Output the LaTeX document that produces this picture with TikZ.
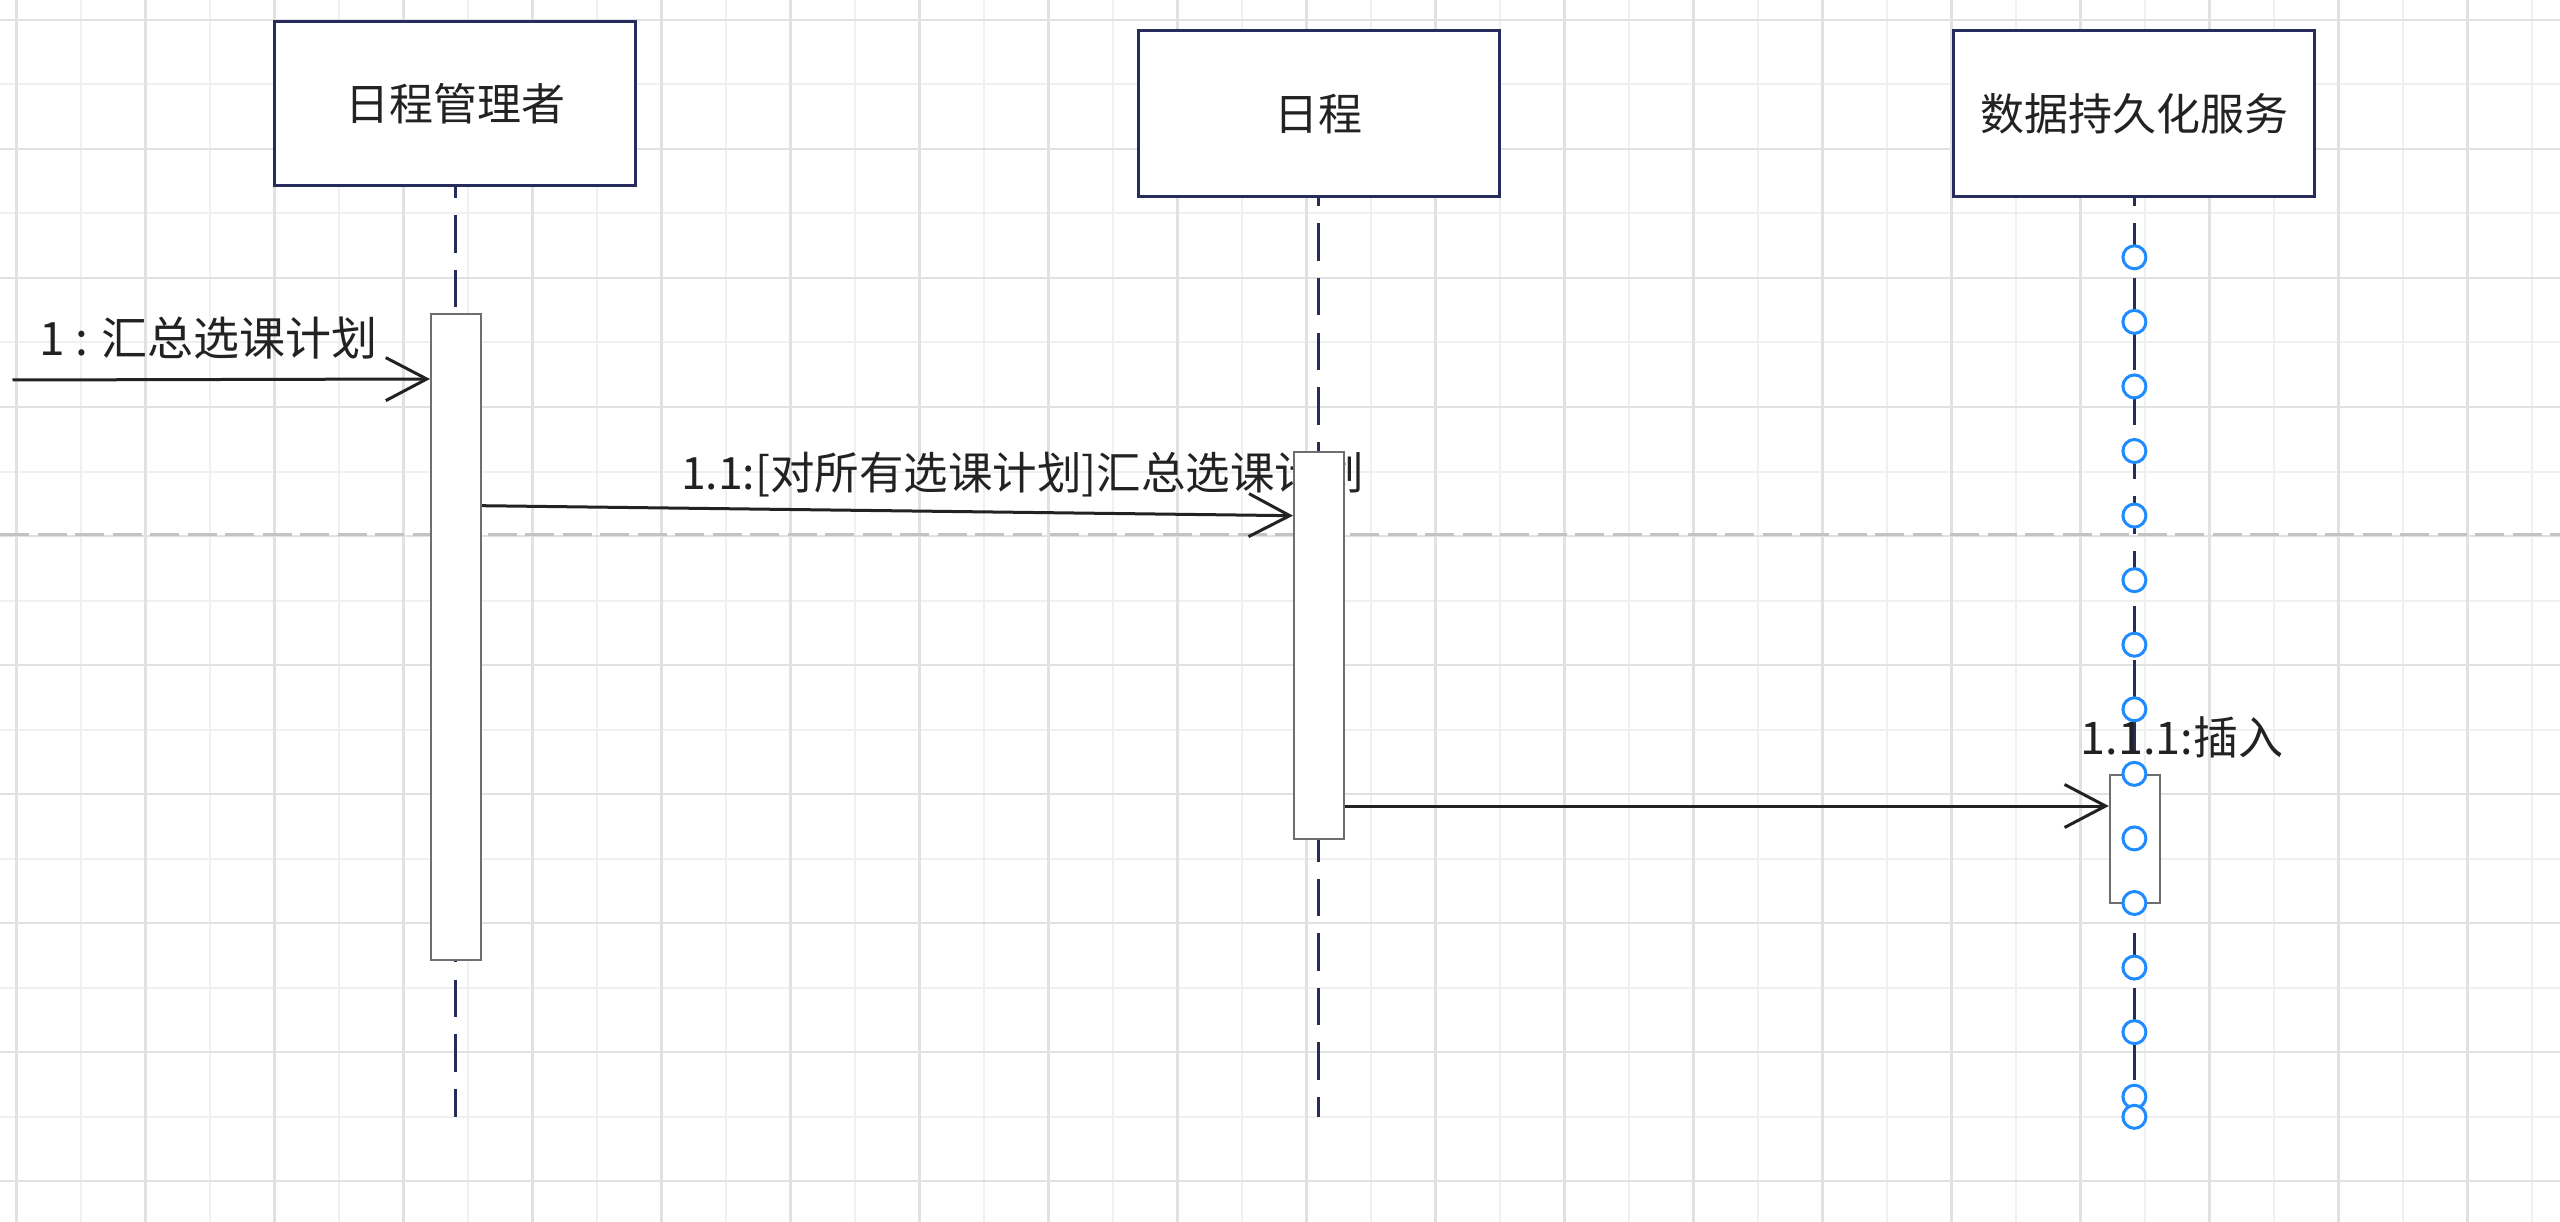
\documentclass[tikz,border=0pt]{standalone}
\usepackage{fontspec}
\setmainfont{Noto Sans CJK SC}
\usetikzlibrary{arrows.meta}
\definecolor{navy}{HTML}{262C5B}
\definecolor{gridA}{HTML}{E1E1E1}
\definecolor{gridB}{HTML}{F0F0F0}
\definecolor{sepgray}{HTML}{C3C3C3}
\definecolor{actgray}{HTML}{6E6E6E}
\definecolor{txt}{HTML}{222222}
\definecolor{handleblue}{HTML}{1E8BFF}
\begin{document}
\begin{tikzpicture}[x=1pt,y=-1pt,
  headbox/.style={draw=navy,line width=3pt,fill=white,minimum width=361pt,minimum height=164pt,inner sep=0pt,font=\fontsize{44pt}{52pt}\selectfont,text=txt},
  actbox/.style={draw=actgray,line width=2pt,fill=white,minimum width=50pt,inner sep=0pt},
  lifeline/.style={draw=navy,line width=3pt,dash pattern=on 37.5pt off 17.1pt},
  msg/.style={draw=txt,line width=3pt,-{Straight Barb[length=41pt,width=43pt]}},
  msglabel/.style={text=txt,inner sep=0pt},
  handle/.style={circle,draw=handleblue,line width=3pt,fill=white,minimum size=23pt,inner sep=0pt},
  gridlight/.style={draw=gridB,line width=2pt},
  griddark/.style={draw=gridA,line width=2.6pt},
  separator/.style={draw=sepgray,line width=3.5pt,dash pattern=on 29pt off 8.5pt}
]
\useasboundingbox[fill=white] (0,0) rectangle (2560,1222);
% grid
\foreach \k in {1,3,...,39} \draw[gridlight] ({16.7+64.5*\k},0) -- ({16.7+64.5*\k},1222);
\foreach \k in {1,3,...,17} \draw[gridlight] (0,{20+64.5*\k}) -- (2560,{20+64.5*\k});
\foreach \k in {0,2,...,38} \draw[griddark] ({16.7+64.5*\k},0) -- ({16.7+64.5*\k},1222);
\foreach \k in {0,2,...,18} \draw[griddark] (0,{20+64.5*\k}) -- (2560,{20+64.5*\k});
% separator
\coordinate (sepL) at (0,534.3);
\coordinate (sepR) at (2560,534.3);
\draw[separator] (sepL) -- (sepR);
% heads
\node[headbox] (h1) at (455.2,103.3) {日程管理者};
\node[headbox,minimum height=166pt] (h2) at (1318.8,113.9) {日程};
\node[headbox,minimum height=166pt] (h3) at (2134.4,113.9) {数据持久化服务};
% lifeline ends
\coordinate (e1) at (455.2,1116.7);
\coordinate (e2) at (1318.8,1116.7);
\coordinate (e3) at (2134.4,1116.7);
\draw[lifeline,dash phase=26.3pt] (h1.south) -- (e1);
\draw[lifeline,dash phase=29.6pt] (h2.south) -- (e2);
\draw[lifeline,dash phase=29.6pt] (h3.south) -- (e3);
% labels
\node[msglabel,font=\fontsize{46pt}{54pt}\selectfont] (l1) at (208.7,338) {1 : 汇总选课计划};
\node[msglabel,font=\fontsize{44.5pt}{52pt}\selectfont] (l2) at (1022.5,475) {1.1:[对所有选课计划]汇总选课计划};
\node[msglabel,font=\fontsize{45pt}{53pt}\selectfont] (l3) at (2182,737.5) {1.1.1:插入};
% activations
\node[actbox,minimum height=646pt] (act1) at (456,637) {};
\node[actbox,minimum height=387pt] (act2) at (1319,645.5) {};
\node[actbox,minimum height=128pt] (act3) at (2134.8,839) {};
% messages
\coordinate (m1s) at (12.5,380);
\draw[msg] (m1s) -- ([yshift=-66pt]act1.north west);
\draw[msg] ([yshift=-192.7pt]act1.north east) -- ([yshift=-64.7pt]act2.north west);
\draw[msg] ([yshift=-355pt]act2.north east) -- ([yshift=-32pt]act3.north west);
% selection handles on the third lifeline
\foreach \k in {0,...,13} \node[handle] (c\k) at (2134.4,{257.3+64.57*\k}) {};
\node[handle] (cend) at (2134.4,1116.8) {};
\end{tikzpicture}
\end{document}
